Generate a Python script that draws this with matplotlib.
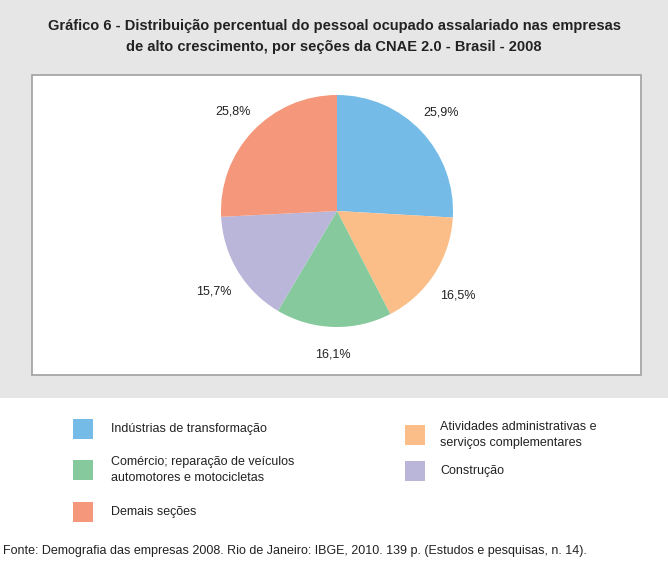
import matplotlib.pyplot as plt
from matplotlib.patches import Rectangle

# data
sections = [
    "Indústrias de transformação",
    "Atividades administrativas e\nserviços complementares",
    "Comércio; reparação de veículos\nautomotores e motocicletas",
    "Construção",
    "Demais seções",
]
shares = [25.9, 16.5, 16.1, 15.7, 25.8]
colors = ["#74BBE8", "#FBBE88", "#85C99C", "#BAB6DA", "#F4977A"]

title = ("Gráfico 6 - Distribuição percentual do pessoal ocupado assalariado nas empresas\n"
         "de alto crescimento, por seções da CNAE 2.0 - Brasil - 2008")
source = ("Fonte: Demografia das empresas 2008. Rio de Janeiro: IBGE, 2010. 139 p. "
          "(Estudos e pesquisas, n. 14).")

W, H = 668, 576
fig = plt.figure(figsize=(W / 100, H / 100), dpi=100)
regular = ["Liberation Sans", "DejaVu Sans"]


def fx(px):
    return px / W


def fy(py):
    return 1 - py / H


# gray panel and white chart box
fig.patches.append(Rectangle((0, fy(398)), 1, 398 / H, transform=fig.transFigure,
                             facecolor="#E6E6E6", edgecolor="none", zorder=-2))
fig.patches.append(Rectangle((fx(32), fy(375)), fx(641) - fx(32), (375 - 75) / H,
                             transform=fig.transFigure, facecolor="white",
                             edgecolor="#A0A0A0", linewidth=1.2, zorder=-1))

fig.text(0.5, fy(36.5), title, ha="center", va="center", fontsize=10.5,
         fontweight="bold", family=regular, color="#222222", linespacing=1.65)

# pie
cx, cy, r = 337, 211, 116
ax = fig.add_axes([fx(cx - r), fy(cy + r), 2 * r / W, 2 * r / H], zorder=5)
labels = [f"{v:.1f}%".replace(".", ",") for v in shares]
wedges, texts = ax.pie(shares, colors=colors, startangle=90, counterclock=False,
                       labels=labels, labeldistance=1.24,
                       textprops=dict(fontsize=9, family=regular, color="#222222"))
for t in texts:
    x, y = t.get_position()
    t.set_ha("center")
    t.set_va("top" if (y < -0.5 and abs(x) > 0.5) else "center")
ax.set_xlim(-1, 1)
ax.set_ylim(-1, 1)
ax.set_aspect("auto")
ax.axis("off")

# legend
leg_pos = [(73, 429), (405, 435), (73, 470), (405, 471), (73, 512)]
for (px, py), lab, col in zip(leg_pos, sections, colors):
    fig.patches.append(Rectangle((fx(px), fy(py + 10)), 20 / W, 20 / H,
                                 transform=fig.transFigure, facecolor=col,
                                 edgecolor="none"))
    tx = 111 if px < 200 else 440
    fig.text(fx(tx), fy(py), lab, ha="left", va="center", fontsize=9,
             family=regular, color="#222222", linespacing=1.5)

fig.text(fx(3), fy(551), source, ha="left", va="center", fontsize=9,
         family=regular, color="#222222")

fig.savefig("out.png", dpi=100)
